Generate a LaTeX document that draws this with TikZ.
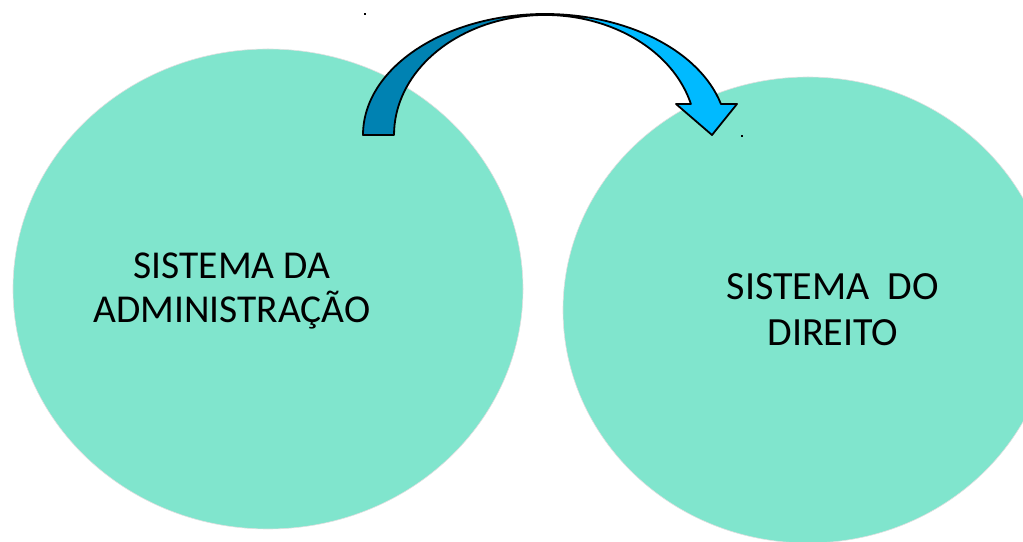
\documentclass[tikz,border=0pt]{standalone}
\usepackage{fontspec}
\setmainfont{Carlito}
\usetikzlibrary{shapes.geometric}
\definecolor{circfill}{RGB}{128,229,205}
\definecolor{arrowdark}{RGB}{0,130,178}
\definecolor{arrowlight}{RGB}{0,186,255}
\begin{document}
\begin{tikzpicture}[x=1pt, y=1pt,
    circ/.style={ellipse, fill=circfill, draw=black!12, line width=0.6pt, inner sep=0pt},
    lbl/.style={align=center, inner sep=0pt, font=\fontsize{39.5}{44}\selectfont}]
    \useasboundingbox (0, 0) rectangle (1023, 541);
    \clip (0, 0) rectangle (1023, 541);
    \node[circ, minimum width=510pt, minimum height=480pt] (admin) at (268, 252) {};
    \node[circ, minimum width=490pt, minimum height=466pt] (direito) at (808, 231) {};
    \node[lbl] (admintext) at (232, 250) {SISTEMA DA\\ADMINISTRAÇÃO};
    \node[lbl, font=\fontsize{40}{46}\selectfont] (direitotext) at (833, 231) {SISTEMA\ \ DO\\DIREITO};
    % curved arrow
    \fill[arrowdark] (363, 406) arc[start angle=180, end angle=90, x radius=182, y radius=121]
        -- (545, 526) arc[start angle=90, end angle=180, x radius=151, y radius=120] -- cycle;
    \fill[arrowlight] (545, 527) arc[start angle=90, end angle=14.84, x radius=182, y radius=121]
        -- (737, 437) -- (712, 406) -- (676, 437) -- (690.9, 437)
        arc[start angle=14.97, end angle=90, x radius=151, y radius=120] -- cycle;
    \draw[line width=1.8pt, line join=round] (363, 406) arc[start angle=180, end angle=14.84, x radius=182, y radius=121]
        -- (737, 437) -- (712, 406) -- (676, 437) -- (690.9, 437)
        arc[start angle=14.97, end angle=180, x radius=151, y radius=120] -- cycle;
    \fill (364, 526) rectangle (366, 528);
    \fill (741, 404) rectangle (743, 406);
\end{tikzpicture}
\end{document}
